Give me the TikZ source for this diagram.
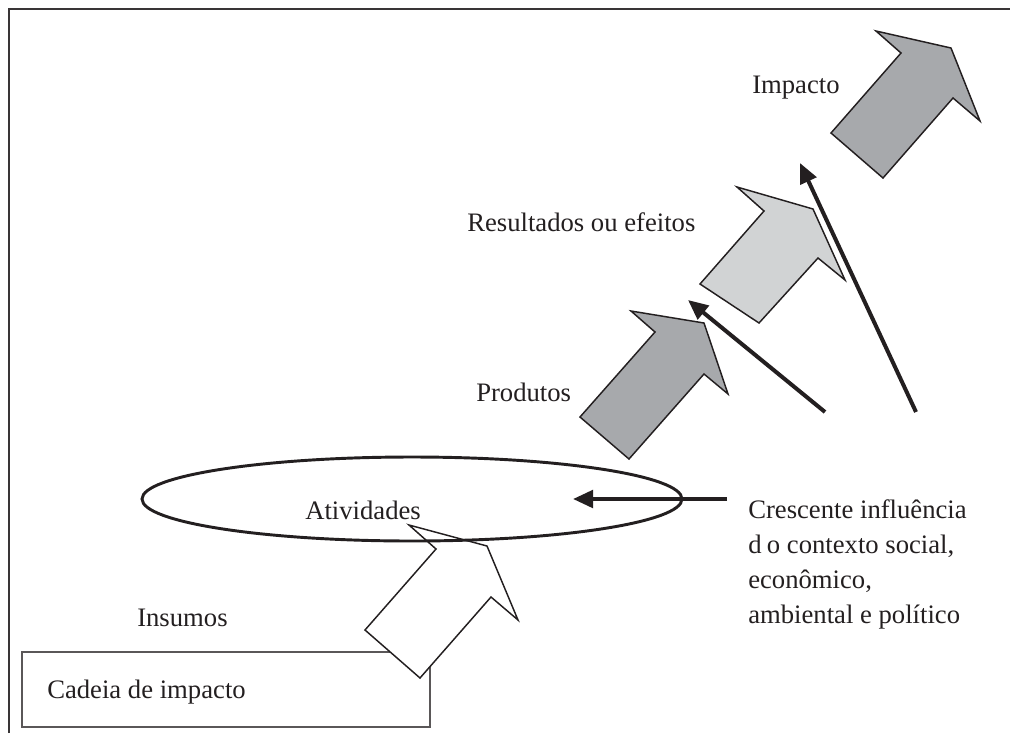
\documentclass[tikz,border=0pt]{standalone}
\usepackage{fontspec}
\setmainfont{Liberation Serif}
\usetikzlibrary{arrows.meta}
\definecolor{ink}{HTML}{231F20}
\definecolor{darkfill}{HTML}{A7A9AC}
\definecolor{lightfill}{HTML}{D1D3D4}
\begin{document}
\begin{tikzpicture}[x=0.75pt,y=-0.75pt,
    lbl/.style={anchor=west,text=ink,inner sep=0pt,font=\fontsize{20}{26.25}\selectfont},
    blk/.style={draw=ink,line width=1.1pt,line join=miter},
    infl/.style={draw=ink,line width=3pt,-{Triangle[length=15pt,width=13pt]}}]
  \useasboundingbox (0,0) rectangle (1010,733);
  % frame
  \draw[draw=ink!90,line width=2.2pt] (9,733) -- (9,9) -- (1010,9);
  % chain box
  \node[draw=ink!75,line width=1.1pt,minimum width=306pt,minimum height=56.25pt,inner sep=0pt] (box) at (226,689.5) {};
  \node[lbl] (cadeia) at (47,692) {Cadeia de impacto};
  % block arrows
  \draw[blk,fill=white] (420,678) -- (491,597) -- (518,620) -- (487,546) -- (409,525) -- (436,549) -- (365,630) -- cycle;
  \draw[blk,fill=darkfill] (629,459) -- (704,374) -- (728,394) -- (704,323) -- (631,311) -- (655,332) -- (580,417) -- cycle;
  \draw[blk,fill=lightfill] (759,323) -- (818,258) -- (845,280) -- (813,209) -- (737,187) -- (764,211) -- (700,284) -- cycle;
  \draw[blk,fill=darkfill] (883,178) -- (953,98) -- (980,121) -- (951,48) -- (876,31) -- (901,53) -- (831,133) -- cycle;
  % activities
  \draw[draw=ink,line width=2.2pt] (412,499) ellipse [x radius=270, y radius=42];
  \node[lbl] (ativ) at (305,510) {Atividades};
  % labels
  \node[lbl] (insumos) at (137,618) {Insumos};
  \node[lbl] (produtos) at (476,392) {Produtos};
  \node[lbl] (result) at (467,222) {Resultados ou efeitos};
  \node[lbl] (impacto) at (752,88) {Impacto};
  \node[lbl,align=left] (ctx) at (748,564) {Crescente influência\\d\hspace{0.2em}o contexto social,\\econômico,\\ambiental e político};
  % influence arrows
  \coordinate (a1) at (727,499);
  \coordinate (b1) at (573,499);
  \coordinate (a2) at (825,412);
  \coordinate (b2) at (688,300);
  \coordinate (a3) at (916,412);
  \coordinate (b3) at (800,163);
  \draw[infl] (a1) -- (b1);
  \draw[infl] (a2) -- (b2);
  \draw[infl] (a3) -- (b3);
\end{tikzpicture}
\end{document}
